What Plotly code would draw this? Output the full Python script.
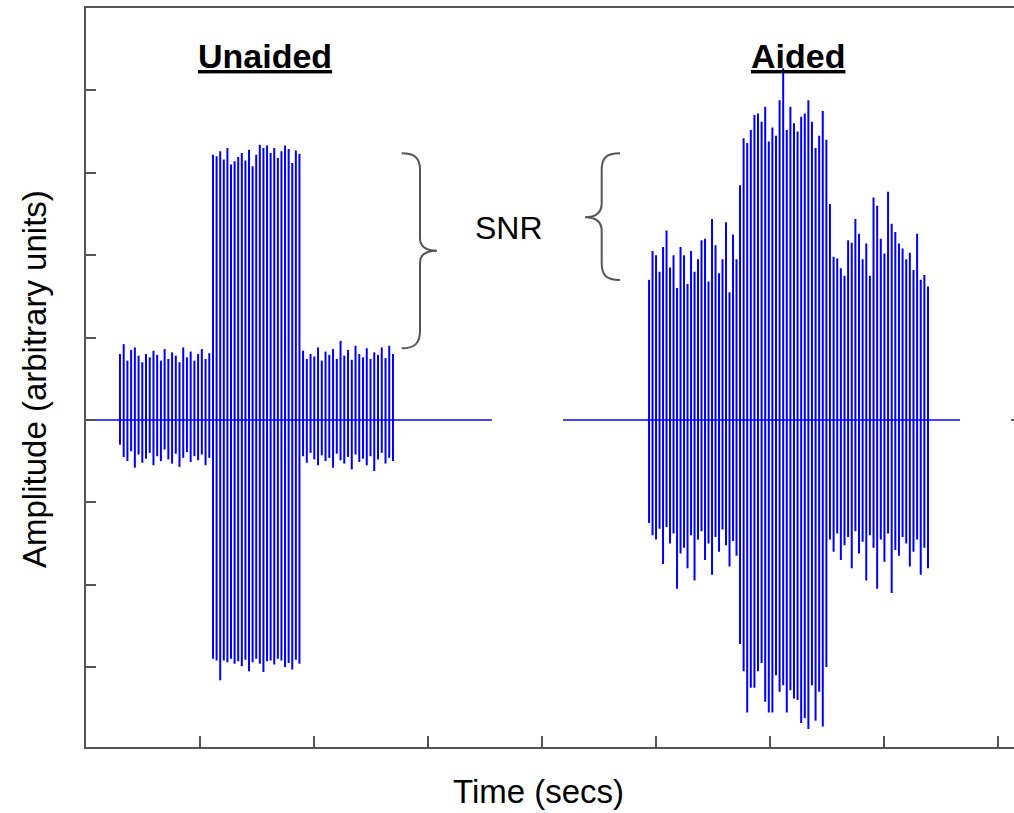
import numpy as np
import plotly.graph_objects as go

# ---------------- data ----------------
# time (x-axis units, ticks at 1..8) of segment boundaries
unaided_base = [0.0, 3.56]
unaided_noise_start, unaided_sig_start, unaided_sig_end, unaided_noise_end = 0.298, 1.114, 1.904, 2.693
aided_base = [4.184, 7.667]
aided_noise_start, aided_sig_start, aided_sig_end, aided_noise_end = 4.939, 5.737, 6.526, 7.386

# peak (top) and trough (bottom) amplitude of each oscillation
unaided_pre_top = [0.80, 0.92, 0.72, 0.85, 0.88, 0.78, 0.70, 0.80, 0.76, 0.84, 0.79, 0.72, 0.86,
                   0.74, 0.82, 0.78, 0.70, 0.88, 0.76, 0.83, 0.72, 0.80, 0.86, 0.74, 0.81]
unaided_pre_bot = [-0.30, -0.45, -0.50, -0.38, -0.58, -0.42, -0.52, -0.47, -0.40, -0.55, -0.44, -0.50, -0.36,
                   -0.48, -0.53, -0.41, -0.57, -0.46, -0.39, -0.51, -0.44, -0.49, -0.42, -0.55, -0.46]
unaided_sig_top = [3.22, 3.20, 3.26, 3.16, 3.30, 3.10, 3.14, 3.19, 3.24, 3.15, 3.28, 3.08, 3.22,
                   3.34, 3.30, 3.33, 3.24, 3.30, 3.18, 3.26, 3.33, 3.29, 3.12, 3.27, 3.23]
unaided_sig_bot = [-2.90, -2.92, -3.16, -2.92, -2.94, -2.90, -2.96, -2.93, -2.99, -2.91, -3.05, -2.94, -2.90,
                   -2.96, -3.06, -2.93, -2.92, -2.97, -2.90, -2.92, -3.00, -2.95, -3.03, -2.91, -2.96]
unaided_post_top = [0.84, 0.74, 0.80, 0.77, 0.88, 0.72, 0.83, 0.79, 0.86, 0.74, 0.96, 0.78, 0.85,
                    0.73, 0.90, 0.80, 0.76, 0.87, 0.74, 0.82, 0.79, 0.88, 0.75, 0.90, 0.80]
unaided_post_bot = [-0.44, -0.52, -0.40, -0.48, -0.55, -0.43, -0.50, -0.46, -0.58, -0.41, -0.49, -0.53, -0.45,
                    -0.60, -0.42, -0.51, -0.47, -0.55, -0.44, -0.62, -0.48, -0.40, -0.53, -0.46, -0.50]

aided_pre_top = [1.70, 2.05, 2.00, 1.80, 2.10, 2.30, 1.85, 2.00, 1.60, 2.10, 2.00, 1.65, 2.05,
                 1.80, 1.95, 2.18, 2.20, 1.68, 2.44, 2.12, 1.78, 1.95, 2.40, 1.55, 2.25, 1.95]
aided_pre_bot = [-1.25, -1.40, -1.45, -1.32, -1.75, -1.30, -1.50, -1.38, -2.05, -1.62, -1.55, -1.80, -1.40,
                 -1.95, -1.45, -1.35, -1.70, -1.50, -1.88, -1.42, -1.60, -1.33, -1.52, -1.78, -1.47, -1.65]
aided_sig_top = [2.85, 3.42, 3.36, 3.52, 3.70, 3.72, 3.62, 3.80, 3.38, 3.55, 3.45, 3.88, 4.27,
                 3.52, 3.80, 3.60, 3.50, 3.68, 3.72, 3.88, 3.62, 3.30, 3.45, 3.75, 3.40]
aided_sig_bot = [-2.72, -3.05, -3.55, -3.25, -3.25, -3.05, -2.95, -3.42, -3.55, -3.55, -3.10, -3.30, -3.22,
                 -3.55, -3.28, -3.38, -3.40, -3.68, -3.62, -3.75, -3.22, -3.65, -3.30, -3.72, -3.00]
aided_post_top = [2.62, 1.98, 1.96, 1.84, 1.75, 2.18, 2.15, 2.44, 2.26, 1.95, 2.14, 1.75, 2.70, 2.60,
                  2.20, 2.02, 2.77, 2.38, 2.28, 2.14, 2.08, 1.95, 2.03, 1.82, 2.26, 1.70, 1.76, 1.62]
aided_post_bot = [-1.45, -1.60, -1.38, -1.70, -1.52, -1.42, -1.80, -1.35, -1.62, -1.48, -1.95, -1.40, -1.55,
                  -2.05, -1.45, -1.72, -1.38, -2.10, -1.58, -1.65, -1.42, -1.50, -1.78, -1.60, -1.45, -1.88,
                  -1.55, -1.80]

x_ticks = [1, 2, 3, 4, 5, 6, 7, 8]
y_ticks = [-3, -2, -1, 0, 1, 2, 3, 4]

# ---------------- build traces ----------------
def spikes(a, b, tops, bots, endpoint=False):
    t = np.linspace(a, b, len(tops), endpoint=endpoint)
    xs, ys = [], []
    for ti, hi, lo in zip(t, tops, bots):
        xs += [ti, ti, None]
        ys += [lo, hi, None]
    return xs, ys

def burst(ns, ss, se, ne, pt, pb, st, sb, qt, qb):
    x1, y1 = spikes(ns, ss, pt, pb)
    x2, y2 = spikes(ss, se, st, sb)
    x3, y3 = spikes(se, ne, qt, qb, endpoint=True)
    return x1 + x2 + x3, y1 + y2 + y3

BLUE = "#0000FF"
fig = go.Figure()
for base in (unaided_base, aided_base):
    fig.add_trace(go.Scatter(x=base, y=[0, 0], mode="lines",
                             line=dict(color=BLUE, width=1.4), showlegend=False, hoverinfo="skip"))

ux, uy = burst(unaided_noise_start, unaided_sig_start, unaided_sig_end, unaided_noise_end,
               unaided_pre_top, unaided_pre_bot, unaided_sig_top, unaided_sig_bot,
               unaided_post_top, unaided_post_bot)
ax_, ay_ = burst(aided_noise_start, aided_sig_start, aided_sig_end, aided_noise_end,
                 aided_pre_top, aided_pre_bot, aided_sig_top, aided_sig_bot,
                 aided_post_top, aided_post_bot)
for xs, ys in ((ux, uy), (ax_, ay_)):
    fig.add_trace(go.Scatter(x=xs, y=ys, mode="lines", connectgaps=False,
                             line=dict(color=BLUE, width=2), showlegend=False, hoverinfo="skip"))

# ---------------- layout ----------------
W, H = 1014, 813
L, R, T, B = 86, 0, 8, 66
XMAX = (W - L - R) / 114.0
YMIN, YMAX = -3.97, 5.0
PYU = (H - T - B) / (YMAX - YMIN)

def dx(px):
    return (px - L) / 114.0

def dy(py):
    return YMAX - (py - T) / PYU

def path(pts):
    out = []
    for cmd, *xy in pts:
        coords = []
        for i in range(0, len(xy), 2):
            coords.append(f"{dx(xy[i]):.4f},{dy(xy[i+1]):.4f}")
        out.append(cmd + " " + " ".join(coords))
    return " ".join(out)

GRAY = "#555555"
brace_right = path([("M", 401.7, 153.3), ("C", 415, 153.3, 420, 158, 420, 170), ("L", 420, 238),
                    ("C", 420, 247, 426, 250.7, 437, 250.7), ("C", 426, 250.7, 420, 254, 420, 263),
                    ("L", 420, 331), ("C", 420, 343, 415, 348.3, 401.7, 348.3)])
brace_left = path([("M", 620, 153.3), ("C", 606, 153.3, 601.7, 158, 601.7, 170), ("L", 601.7, 203),
                   ("C", 601.7, 212, 596, 217.3, 585, 217.3), ("C", 596, 217.3, 601.7, 222, 601.7, 231),
                   ("L", 601.7, 263), ("C", 601.7, 275, 606, 280, 620, 280)])

shapes = [
    dict(type="path", path=brace_right, xref="x", yref="y", line=dict(color=GRAY, width=2)),
    dict(type="path", path=brace_left, xref="x", yref="y", line=dict(color=GRAY, width=2)),
    dict(type="line", xref="x", yref="y", x0=dx(1011), x1=dx(1014), y0=0, y1=0,
         line=dict(color=GRAY, width=2)),
]

def px_paper_x(px):
    return (px - L) / (W - L - R)

def px_paper_y(py):
    return (H - B - py) / (H - T - B)

FONT = "Liberation Sans, Arial, sans-serif"
annotations = [
    dict(text="<b><u>Unaided</u></b>", x=px_paper_x(265), y=px_paper_y(56), xref="paper", yref="paper",
         showarrow=False, font=dict(family=FONT, size=34, color="black"), xanchor="center", yanchor="middle"),
    dict(text="<b><u>Aided</u></b>", x=px_paper_x(798), y=px_paper_y(56), xref="paper", yref="paper",
         showarrow=False, font=dict(family=FONT, size=34, color="black"), xanchor="center", yanchor="middle"),
    dict(text="SNR", x=px_paper_x(509), y=px_paper_y(228), xref="paper", yref="paper",
         showarrow=False, font=dict(family=FONT, size=32, color="black"), xanchor="center", yanchor="middle"),
    dict(text="Time (secs)", x=px_paper_x(538), y=px_paper_y(791), xref="paper", yref="paper",
         showarrow=False, font=dict(family=FONT, size=33, color="black"), xanchor="center", yanchor="middle"),
    dict(text="Amplitude (arbitrary units)", x=px_paper_x(34), y=px_paper_y(379), xref="paper", yref="paper",
         showarrow=False, textangle=-90, font=dict(family=FONT, size=33, color="black"),
         xanchor="center", yanchor="middle"),
]

fig.update_layout(
    width=W, height=H,
    margin=dict(l=L, r=R, t=T, b=B, pad=0),
    plot_bgcolor="white", paper_bgcolor="white",
    showlegend=False,
    shapes=shapes,
    annotations=annotations,
    xaxis=dict(range=[0, XMAX], showgrid=False, zeroline=False, showline=True, linecolor=GRAY,
               linewidth=2, mirror=True, ticks="inside", ticklen=11, tickwidth=2, tickcolor=GRAY,
               tickvals=x_ticks, showticklabels=False, fixedrange=True),
    yaxis=dict(range=[YMIN, YMAX], showgrid=False, zeroline=False, showline=True, linecolor=GRAY,
               linewidth=2, ticks="inside", ticklen=10, tickwidth=2, tickcolor=GRAY,
               tickvals=y_ticks, showticklabels=False, fixedrange=True),
)

fig.write_html(
    "out.html",
    config={"displayModeBar": False},
    post_script="document.body.style.margin='0';document.body.style.overflow='hidden';",
)
